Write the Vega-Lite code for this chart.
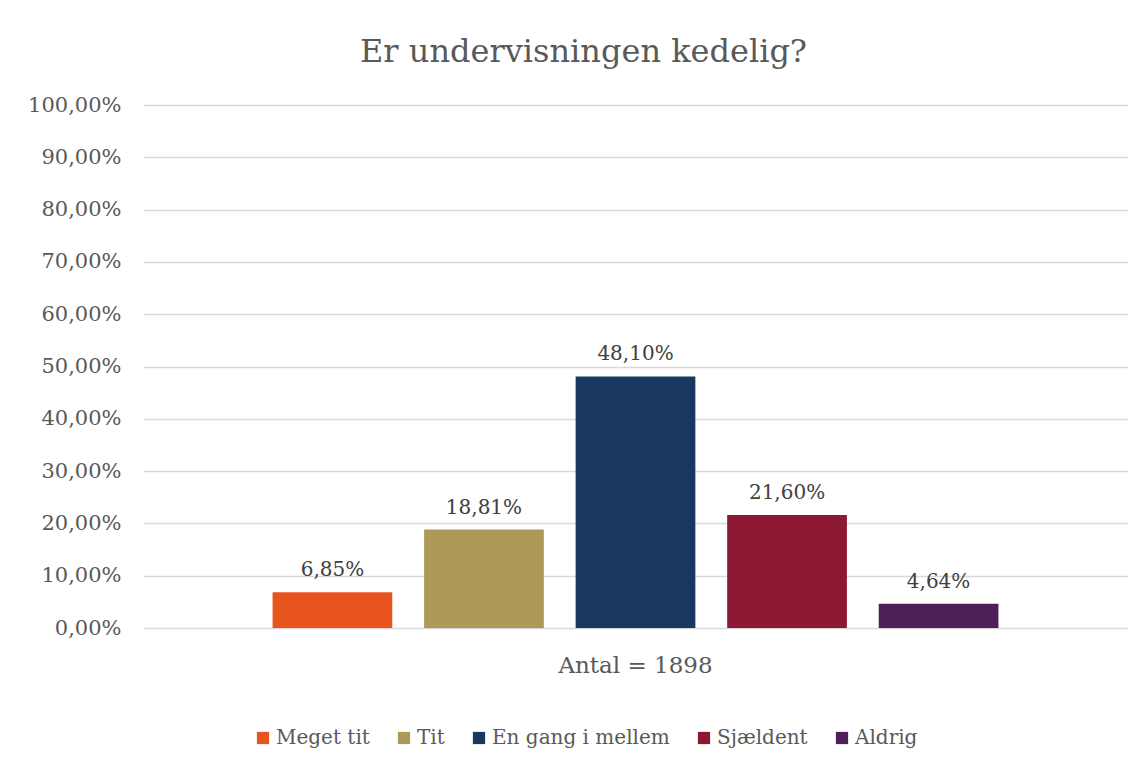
{
  "$schema": "https://vega.github.io/schema/vega-lite/v6.json",
  "autosize": {"type": "none"},
  "width": 985,
  "height": 523,
  "padding": {"left": 143, "top": 105, "right": 16, "bottom": 139},
  "background": "white",
  "config": {
    "locale": {"number": {"decimal": ",", "thousands": ".", "grouping": [3], "currency": ["", " kr."]}},
    "font": "DejaVu Serif",
    "view": {"stroke": null},
    "axis": {"labelFont": "DejaVu Serif", "labelColor": "#595959", "titleColor": "#595959"},
    "legend": {"labelFont": "DejaVu Serif"}
  },
  "title": {
    "text": "Er undervisningen kedelig?",
    "fontSize": 32,
    "font": "DejaVu Serif",
    "fontWeight": "normal",
    "color": "#595959",
    "offset": 25,
    "dx": -52
  },
  "data": {
    "values": [
      {"gruppe": "Antal = 1898", "svar": "Meget tit", "andel": 0.0685},
      {"gruppe": "Antal = 1898", "svar": "Tit", "andel": 0.1881},
      {"gruppe": "Antal = 1898", "svar": "En gang i mellem", "andel": 0.481},
      {"gruppe": "Antal = 1898", "svar": "Sjældent", "andel": 0.216},
      {"gruppe": "Antal = 1898", "svar": "Aldrig", "andel": 0.0464}
    ]
  },
  "encoding": {
    "x": {
      "field": "gruppe",
      "type": "nominal",
      "scale": {"paddingInner": 0, "paddingOuter": 0.15},
      "axis": {
        "title": null,
        "labelAngle": 0,
        "labelFontSize": 23,
        "labelPadding": 26,
        "ticks": false,
        "domain": false,
        "grid": false
      }
    },
    "xOffset": {
      "field": "svar",
      "type": "nominal",
      "sort": ["Meget tit", "Tit", "En gang i mellem", "Sjældent", "Aldrig"],
      "scale": {"paddingInner": 0.21, "paddingOuter": 0.105}
    },
    "y": {
      "field": "andel",
      "type": "quantitative",
      "scale": {"domain": [0, 1]},
      "axis": {
        "title": null,
        "format": ".2%",
        "values": [0, 0.1, 0.2, 0.3, 0.4, 0.5, 0.6, 0.7, 0.8, 0.9, 1],
        "labelOverlap": false,
        "labelFontSize": 21,
        "labelPadding": 22,
        "ticks": false,
        "domain": false,
        "gridColor": "#d9d9d9",
        "gridWidth": 1.5
      }
    }
  },
  "layer": [
    {
      "mark": {"type": "bar"},
      "encoding": {
        "color": {
          "field": "svar",
          "type": "nominal",
          "sort": ["Meget tit", "Tit", "En gang i mellem", "Sjældent", "Aldrig"],
          "scale": {
            "domain": ["Meget tit", "Tit", "En gang i mellem", "Sjældent", "Aldrig"],
            "range": ["#E8541E", "#AE9958", "#183860", "#8C1834", "#4F1F5A"]
          },
          "legend": {
            "title": null,
            "orient": "none",
            "direction": "horizontal",
            "legendX": 110,
            "legendY": 623,
            "symbolType": "square",
            "symbolSize": 150,
            "symbolStrokeWidth": 0,
            "labelFontSize": 20,
            "labelLimit": 400,
            "labelColor": "#595959",
            "labelOffset": 3,
            "columnPadding": 24
          }
        }
      }
    },
    {
      "mark": {"type": "text", "baseline": "bottom", "dy": -12, "fontSize": 20, "color": "#404040"},
      "encoding": {
        "text": {"field": "andel", "type": "quantitative", "format": ".2%"}
      }
    }
  ]
}
